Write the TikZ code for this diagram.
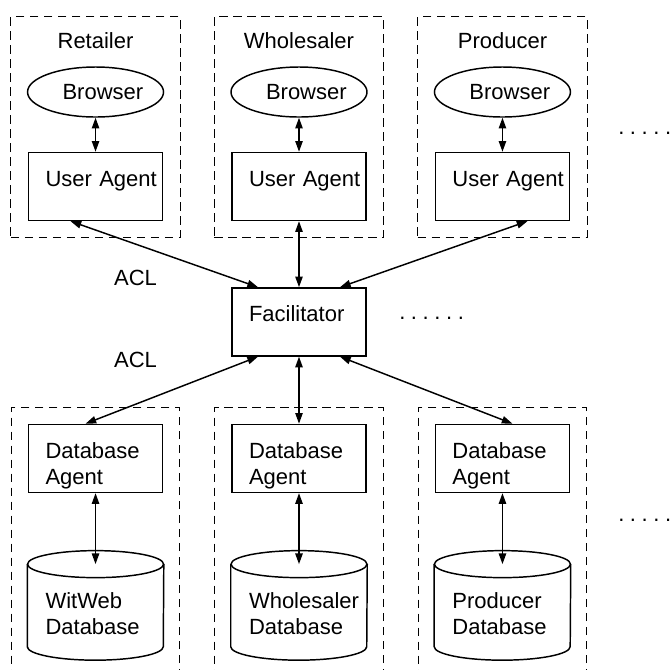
\documentclass[tikz,border=0pt]{standalone}
\usepackage{fontspec}
\setmainfont{Liberation Sans}
\usetikzlibrary{arrows.meta, positioning, calc, fit, shapes.geometric}
\newlength{\dpx}
\setlength{\dpx}{0.75pt}

\begin{document}
\begin{tikzpicture}[
    x=0.75pt, y=-0.75pt,
    font=\fontsize{16.5}{19.5}\selectfont,
    txt/.style={inner sep=0pt},
    brw/.style={draw, ellipse, line width=1.1pt, minimum width=136\dpx,
                minimum height=50\dpx, text width=66\dpx, align=left},
    agent/.style={draw, line width=1.1pt, minimum width=134\dpx, inner sep=0pt,
                  text width=100\dpx, align=left, text height=34\dpx, text depth=34\dpx},
    dbs/.style={minimum width=136\dpx, inner sep=0pt, text width=100\dpx, align=left,
                text height=44\dpx, text depth=38\dpx},
    cyl/.style={line width=1.1pt},
    grp/.style={draw, dash pattern=on 6.5pt off 4pt, line width=1pt, inner sep=16\dpx},
    arr/.style={{Triangle[length=8pt, width=5.5pt]}-{Triangle[length=8pt, width=5.5pt]},
                line width=1.1pt}
]
\useasboundingbox (0,0) rectangle (672,669);

% user side
\node[brw] (br2) at (299,92) {Browser};
\node[brw, left=66\dpx of br2] (br1) {Browser};
\node[brw, right=66\dpx of br2] (br3) {Browser};
\node[txt, above=17\dpx of br1] (t1) {Retailer};
\node[txt, above=17\dpx of br2] (t2) {Wholesaler};
\node[txt, above=17\dpx of br3] (t3) {Producer};
\node[agent, below=34\dpx of br1] (ua1) {User~Agent};
\node[agent, below=34\dpx of br2] (ua2) {User~Agent};
\node[agent, below=34\dpx of br3] (ua3) {User~Agent};
\node[grp, fit=(t1)(br1)(ua1)] (g1) {};
\node[grp, fit=(t2)(br2)(ua2)] (g2) {};
\node[grp, fit=(t3)(br3)(ua3)] (g3) {};

% facilitator
\node[agent, below=66\dpx of ua2] (fac) {Facilitator};
\node[txt] (acl1) at (135.5,278) {ACL};
\node[txt] (acl2) at (135.5,360) {ACL};
\node[txt, anchor=base west] (more1) at (399,319)
    {.\hspace{4.2pt}.\hspace{4.2pt}.\hspace{4.2pt}.\hspace{4.2pt}.\hspace{4.2pt}.};
\node[txt, anchor=base west] (more2) at (618,134)
    {.\hspace{4.2pt}.\hspace{4.2pt}.\hspace{4.2pt}.\hspace{4.2pt}.};
\node[txt, anchor=base west] (more3) at (618,521)
    {.\hspace{4.2pt}.\hspace{4.2pt}.\hspace{4.2pt}.\hspace{4.2pt}.};

% database side
\node[agent, below=67\dpx of fac] (dba2) {Database\\Agent};
\node[agent, left=68\dpx of dba2] (dba1) {Database\\Agent};
\node[agent, right=68\dpx of dba2] (dba3) {Database\\Agent};
\node[dbs, below=71\dpx of dba1] (db1) {WitWeb\\Database};
\node[dbs, below=71\dpx of dba2] (db2) {Wholesaler\\Database};
\node[dbs, below=71\dpx of dba3] (db3) {Producer\\Database};
% cylinder outlines round the database texts
\draw[cyl] (db1.north) ellipse [x radius=68\dpx, y radius=13.5\dpx];
\draw[cyl] (db1.north west) -- (db1.south west)
    arc [start angle=180, end angle=360, x radius=68\dpx, y radius=13.5\dpx] -- (db1.north east);
\draw[cyl] (db2.north) ellipse [x radius=68\dpx, y radius=13.5\dpx];
\draw[cyl] (db2.north west) -- (db2.south west)
    arc [start angle=180, end angle=360, x radius=68\dpx, y radius=13.5\dpx] -- (db2.north east);
\draw[cyl] (db3.north) ellipse [x radius=68\dpx, y radius=13.5\dpx];
\draw[cyl] (db3.north west) -- (db3.south west)
    arc [start angle=180, end angle=360, x radius=68\dpx, y radius=13.5\dpx] -- (db3.north east);
\node[grp, fit={(dba1)(db1)([yshift=-14\dpx]db1.south)}] (g4) {};
\node[grp, fit={(dba2)(db2)([yshift=-14\dpx]db2.south)}] (g5) {};
\node[grp, fit={(dba3)(db3)([yshift=-14\dpx]db3.south)}] (g6) {};

\draw[arr] (br1) -- (ua1);
\draw[arr] (br2) -- (ua2);
\draw[arr] (br3) -- (ua3);
\draw[arr] ([xshift=-25\dpx]ua1.south) -- ([xshift=-41\dpx]fac.north);
\draw[arr] (ua2) -- (fac);
\draw[arr] ([xshift=25\dpx]ua3.south) -- ([xshift=41\dpx]fac.north);
\draw[arr] ([xshift=-41\dpx]fac.south) -- ([xshift=-10\dpx]dba1.north);
\draw[arr] (fac) -- (dba2);
\draw[arr] ([xshift=41\dpx]fac.south) -- ([xshift=10\dpx]dba3.north);
\draw[arr] (dba1) -- (db1.north);
\draw[arr] (dba2) -- (db2.north);
\draw[arr] (dba3) -- (db3.north);
\end{tikzpicture}
\end{document}
